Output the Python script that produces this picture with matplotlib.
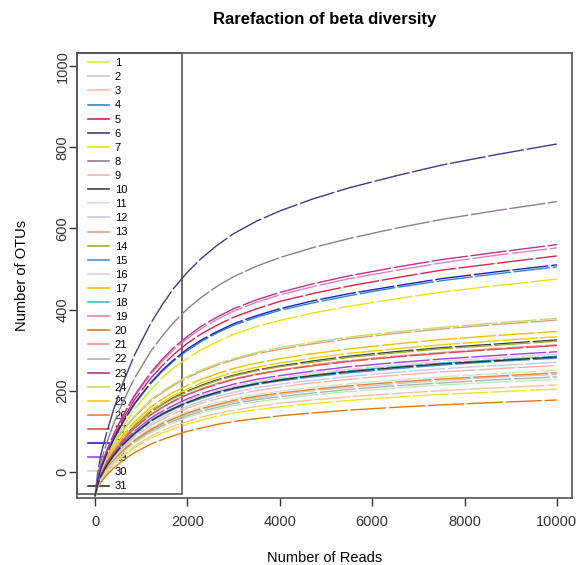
import matplotlib
matplotlib.use("Agg")
import matplotlib.pyplot as plt
from matplotlib.lines import Line2D
from matplotlib.patches import Rectangle

plt.rcParams['font.family'] = ['Liberation Sans', 'DejaVu Sans']

reads = [0, 50, 120, 250, 400, 600, 850, 1200, 1450, 1700, 2000, 2300, 2650, 3000,
         3500, 4000, 4700, 5500, 6500, 7500, 8700, 10000]

# OTU counts per sample
s1 = [-60, -42, -23, -2, 17, 38, 59, 83, 95, 106, 118, 127, 137, 145, 153, 160, 168, 176, 184, 191, 197, 204]
s2 = [-60, -39, -18, 6, 27, 51, 75, 102, 116, 129, 142, 153, 164, 172, 182, 190, 200, 208, 217, 225, 233, 240]
s3 = [-60, -41, -22, 0, 20, 41, 63, 88, 101, 113, 124, 135, 144, 152, 161, 169, 177, 185, 193, 200, 207, 214]
s4 = [-60, -26, 5, 42, 78, 121, 166, 217, 247, 273, 299, 321, 343, 361, 381, 398, 416, 434, 454, 471, 488, 505]
s5 = [-60, -25, 8, 47, 85, 129, 177, 230, 261, 289, 317, 340, 362, 381, 402, 420, 439, 458, 478, 497, 514, 532]
s6 = [-60, -8, 40, 96, 153, 218, 287, 365, 411, 452, 492, 526, 559, 587, 618, 643, 672, 700, 729, 756, 782, 808]
s7 = [-60, -28, 2, 36, 71, 111, 154, 202, 231, 256, 280, 301, 321, 339, 358, 373, 391, 408, 426, 443, 459, 475]
s8 = [-60, -16, 23, 71, 118, 172, 230, 296, 334, 368, 402, 430, 458, 481, 507, 528, 552, 575, 600, 622, 644, 666]
s9 = [-60, -37, -15, 11, 33, 59, 85, 114, 129, 143, 157, 169, 180, 190, 200, 209, 219, 228, 238, 246, 254, 262]
s10 = [-60, -33, -6, 25, 52, 82, 113, 148, 166, 183, 199, 213, 227, 238, 251, 261, 273, 285, 296, 306, 315, 325]
s11 = [-60, -38, -17, 8, 30, 55, 80, 107, 122, 135, 149, 160, 171, 180, 190, 199, 208, 217, 226, 234, 242, 250]
s12 = [-60, -37, -14, 13, 36, 62, 89, 118, 134, 148, 162, 174, 186, 196, 207, 216, 225, 235, 245, 254, 262, 270]
s13 = [-60, -30, 1, 35, 66, 101, 135, 174, 195, 213, 232, 248, 263, 276, 291, 302, 315, 328, 341, 352, 363, 374]
s14 = [-60, -33, -7, 24, 51, 81, 112, 146, 165, 181, 197, 211, 225, 236, 249, 259, 270, 282, 293, 303, 312, 322]
s15 = [-60, -36, -12, 15, 39, 66, 93, 124, 140, 154, 169, 181, 193, 204, 215, 224, 234, 244, 254, 263, 272, 280]
s16 = [-60, -36, -11, 17, 42, 70, 98, 129, 146, 161, 176, 189, 201, 211, 223, 232, 243, 253, 263, 273, 281, 290]
s17 = [-60, -32, -3, 29, 58, 90, 123, 159, 179, 196, 213, 228, 242, 255, 268, 279, 291, 303, 315, 326, 336, 346]
s18 = [-60, -36, -12, 16, 40, 68, 95, 126, 143, 157, 172, 185, 197, 207, 219, 228, 238, 249, 259, 268, 276, 285]
s19 = [-60, -23, 10, 50, 90, 136, 185, 240, 272, 301, 329, 353, 376, 396, 418, 436, 456, 476, 496, 515, 534, 552]
s20 = [-60, -43, -27, -8, 9, 28, 47, 68, 79, 89, 100, 108, 117, 124, 131, 138, 145, 152, 159, 165, 171, 177]
s21 = [-60, -34, -8, 22, 48, 78, 108, 141, 159, 175, 191, 205, 218, 229, 241, 251, 263, 274, 285, 294, 304, 313]
s22 = [-60, -39, -19, 5, 25, 49, 72, 99, 113, 125, 138, 149, 159, 168, 178, 185, 194, 203, 212, 219, 227, 234]
s23 = [-60, -23, 11, 52, 92, 138, 188, 244, 277, 306, 334, 359, 382, 402, 424, 442, 463, 483, 504, 523, 541, 560]
s24 = [-60, -29, 1, 36, 67, 102, 137, 177, 198, 216, 235, 251, 266, 279, 294, 306, 319, 332, 345, 356, 367, 378]
s25 = [-60, -33, -5, 26, 54, 85, 117, 152, 171, 188, 204, 219, 233, 245, 258, 268, 280, 292, 303, 313, 323, 333]
s26 = [-60, -39, -17, 7, 28, 52, 77, 104, 119, 131, 145, 156, 166, 176, 186, 194, 203, 212, 221, 229, 236, 244]
s27 = [-60, -34, -8, 22, 48, 77, 107, 140, 158, 174, 190, 203, 216, 228, 240, 250, 261, 272, 283, 292, 302, 311]
s28 = [-60, -26, 6, 43, 80, 122, 168, 219, 250, 276, 303, 325, 346, 365, 385, 402, 421, 439, 458, 476, 493, 510]
s29 = [-60, -35, -10, 18, 43, 72, 100, 132, 149, 164, 180, 193, 205, 216, 228, 237, 248, 259, 269, 278, 287, 296]
s30 = [-60, -40, -20, 3, 24, 47, 70, 96, 109, 121, 134, 145, 155, 163, 173, 180, 189, 198, 206, 214, 221, 228]
s31 = [-60, -36, -12, 15, 40, 67, 94, 125, 142, 156, 171, 184, 196, 206, 217, 226, 237, 247, 257, 266, 274, 283]

samples = [s1, s2, s3, s4, s5, s6, s7, s8, s9, s10, s11, s12, s13, s14, s15, s16,
           s17, s18, s19, s20, s21, s22, s23, s24, s25, s26, s27, s28, s29, s30, s31]
labels = [str(i) for i in range(1, 32)]
colors = ['#e8e820', '#c8c8c8', '#ffbfa8', '#2b8cc4', '#e0204a', '#3c3c8c', '#e6e600', '#8e7e8e',
          '#ffb4aa', '#404040', '#c4ecc4', '#c8c8ec', '#e0a080', '#a0b034', '#4a94d4', '#f0c8dc',
          '#f0c000', '#40c0d0', '#e080c0', '#e07810', '#e49090', '#b0b0b0', '#c03090', '#c0e060',
          '#f0d000', '#f08030', '#e05050', '#2020c0', '#a040f0', '#b4f0b4', '#303030']

fig, ax = plt.subplots(figsize=(5.76, 5.65), dpi=100)
fig.subplots_adjust(left=0.133, right=0.9925, top=0.906, bottom=0.119)

for i, (vals, col) in enumerate(zip(samples, colors)):
    ax.plot(reads, vals, color=col, lw=1.0, zorder=2,
            linestyle=(i * 7 % 28, (26, 2)))

ax.set_xlim(-400, 10320)
ax.set_ylim(-64, 1032)
ax.set_xticks(range(0, 10001, 2000))
ax.set_yticks(range(0, 1001, 200))
ax.set_yticklabels([str(v) for v in range(0, 1001, 200)], rotation=90, va='center')
ax.tick_params(direction='out', length=6, width=1, colors='#333333', labelsize=10.5)
ax.tick_params(axis='x', pad=6.5)
ax.tick_params(axis='y', pad=-1)
for sp in ax.spines.values():
    sp.set_color('#555555')
    sp.set_linewidth(1.2)

ax.set_title("Rarefaction of beta diversity", fontsize=12, fontweight='bold', pad=21)
ax.set_xlabel("Number of Reads", fontsize=10.5, labelpad=16)
ax.set_ylabel("Number of OTUs", fontsize=10.5, labelpad=19.5)

# legend box (R style, drawn under the curves)
ax.add_patch(Rectangle((0, 0.009), 0.213, 0.991, transform=ax.transAxes, fill=False,
                       edgecolor='#555555', lw=1.2, zorder=1, clip_on=False))
handles = [Line2D([], [], color=c, lw=1.2) for c in colors]
leg = ax.legend(handles, labels, loc='upper left', bbox_to_anchor=(0.013, 1.0),
                fontsize=8, frameon=False, borderaxespad=0,
                labelspacing=0.37, handlelength=1.9, handletextpad=0.5, borderpad=0.45)
leg.set_zorder(1)

plt.savefig('out.png', dpi=100)
